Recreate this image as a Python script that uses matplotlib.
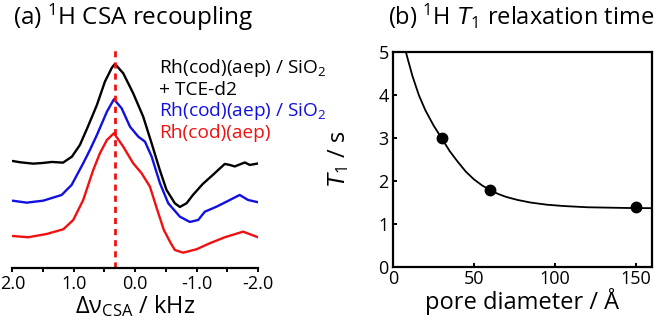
import numpy as np
import matplotlib
matplotlib.use("Agg")
import matplotlib.pyplot as plt

plt.rcParams['font.family'] = ['Open Sans', 'DejaVu Sans']
plt.rcParams['mathtext.fontset'] = 'custom'
plt.rcParams['mathtext.rm'] = 'Open Sans'
plt.rcParams['mathtext.it'] = 'Liberation Sans:italic'
plt.rcParams['mathtext.default'] = 'rm'

# (a) espectros de recoupling CSA (kHz, intensidade arbitraria)
freq_preto = [2.0, 1.875, 1.66, 1.50, 1.355, 1.175, 1.03, 0.90, 0.77, 0.623, 0.493, 0.379,
              0.33, 0.195, 0.033, -0.13, -0.267, -0.40, -0.51, -0.645, -0.727, -0.836,
              -0.94, -1.10, -1.263, -1.458, -1.54, -1.62, -1.784, -1.865, -2.0]
int_preto = [2.18, 2.154, 2.126, 2.14, 2.16, 2.146, 2.266, 2.50, 2.866, 3.30, 3.766, 4.046,
             4.12, 3.934, 3.534, 3.066, 2.534, 2.0, 1.6, 1.334, 1.26, 1.334,
             1.5, 1.72, 1.9, 2.12, 2.1, 2.07, 2.15, 2.10, 2.13]

freq_azul = [2.0, 1.766, 1.496, 1.197, 1.035, 0.846, 0.737, 0.623, 0.46, 0.346, 0.221, 0.085,
             -0.05, -0.159, -0.268, -0.403, -0.538, -0.727, -0.89, -1.025, -1.134, -1.324,
             -1.487, -1.70, -1.836, -2.0]
int_azul = [1.386, 1.346, 1.386, 1.50, 1.70, 2.134, 2.40, 2.70, 3.166, 3.414, 3.234, 2.866,
            2.666, 2.566, 2.266, 1.734, 1.334, 1.066, 0.96, 1.0, 1.166, 1.266,
            1.366, 1.50, 1.40, 1.354]

freq_verm = [2.0, 1.74, 1.44, 1.17, 1.008, 0.846, 0.683, 0.574, 0.46, 0.346, 0.195, 0.033,
             -0.104, -0.24, -0.349, -0.466, -0.577, -0.645, -0.78, -0.998, -1.214, -1.458,
             -1.756, -2.0]
int_verm = [0.68, 0.654, 0.72, 0.814, 1.0, 1.40, 2.0, 2.334, 2.60, 2.734, 2.466, 2.134,
            1.934, 1.666, 1.24, 0.80, 0.54, 0.40, 0.346, 0.414, 0.534, 0.654,
            0.766, 0.654]

pico_csa = 0.33

# (b) T1 vs diametro de poro
diametro = [30, 60, 150]
T1 = [3.0, 1.8, 1.4]
ajuste_d = [8, 12, 16, 20, 25, 30, 35, 40, 45, 50, 55, 60, 65, 70, 77, 85, 95, 105,
            120, 135, 150, 160]
ajuste_T1 = [5.0, 4.45, 4.0, 3.65, 3.3, 3.0, 2.7, 2.45, 2.22, 2.04, 1.9, 1.79, 1.7,
             1.63, 1.56, 1.5, 1.45, 1.42, 1.39, 1.38, 1.37, 1.37]

fig = plt.figure(figsize=(6.66, 3.26), dpi=100)

# ---- painel (a)
ax1 = fig.add_axes([0.0185, 0.178, 0.369, 0.675])
linha = dict(lw=1.7, solid_joinstyle='round', solid_capstyle='round')
ax1.plot(freq_preto, int_preto, color='black', **linha)
ax1.plot(freq_azul, int_azul, color='#1010e0', **linha)
ax1.plot(freq_verm, int_verm, color='#f01010', **linha)
ax1.axvline(pico_csa, color='#f01010', lw=2, ls=(0, (2.2, 1.8)))
ax1.set_xlim(2.0, -2.0)
ax1.set_ylim(0.04, 4.44)
for s in ['top', 'left', 'right']:
    ax1.spines[s].set_visible(False)
ax1.spines['bottom'].set_linewidth(1.6)
ax1.set_yticks([])
ax1.set_xticks([2.0, 1.0, 0.0, -1.0, -2.0])
ax1.set_xticklabels(['2.0', '1.0', '0.0', '-1.0', '-2.0'])
ax1.set_xticks([1.5, 0.5, -0.5, -1.5], minor=True)
ax1.tick_params(axis='x', which='both', direction='out', length=3, width=1.4,
                labelsize=13, pad=2)
ax1.set_xlabel(r'$\Delta\nu_{\mathrm{CSA}}$ / kHz', fontsize=17, labelpad=0)

fig.text(0.0195, 0.923, r'(a) $^{1}$H CSA recoupling', fontsize=17.5, va='baseline')
fig.text(0.239, 0.79, r'Rh(cod)(aep) / SiO$_2$', fontsize=13.8, color='black', va='center')
fig.text(0.239, 0.723, '+ TCE-d2', fontsize=13.8, color='black', va='center')
fig.text(0.239, 0.658, r'Rh(cod)(aep) / SiO$_2$', fontsize=13.8, color='#1010e0', va='center')
fig.text(0.239, 0.593, 'Rh(cod)(aep)', fontsize=13.8, color='#f01010', va='center')

# ---- painel (b)
ax2 = fig.add_axes([0.590, 0.181, 0.389, 0.659])
ax2.plot(ajuste_d, ajuste_T1, color='black', lw=1.3)
ax2.plot(diametro, T1, 'o', color='black', ms=7.5)
ax2.set_xlim(0, 160)
ax2.set_ylim(0, 5)
ax2.set_xticks([0, 50, 100, 150])
ax2.set_yticks([0, 1, 2, 3, 4, 5])
for s in ax2.spines.values():
    s.set_linewidth(1.6)
ax2.tick_params(direction='in', length=3, width=1.4, labelsize=13, pad=2)
ax2.tick_params(axis='y', pad=3)
ax2.set_xlabel('pore diameter / Å', fontsize=17, labelpad=0)
ax2.set_ylabel(r'$\mathit{T}_1$ / s', fontsize=17, labelpad=20)
fig.text(0.583, 0.923, r'(b) $^{1}$H $\mathit{T}_1$ relaxation time', fontsize=17, va='baseline')

fig.savefig('out.png', dpi=100)
